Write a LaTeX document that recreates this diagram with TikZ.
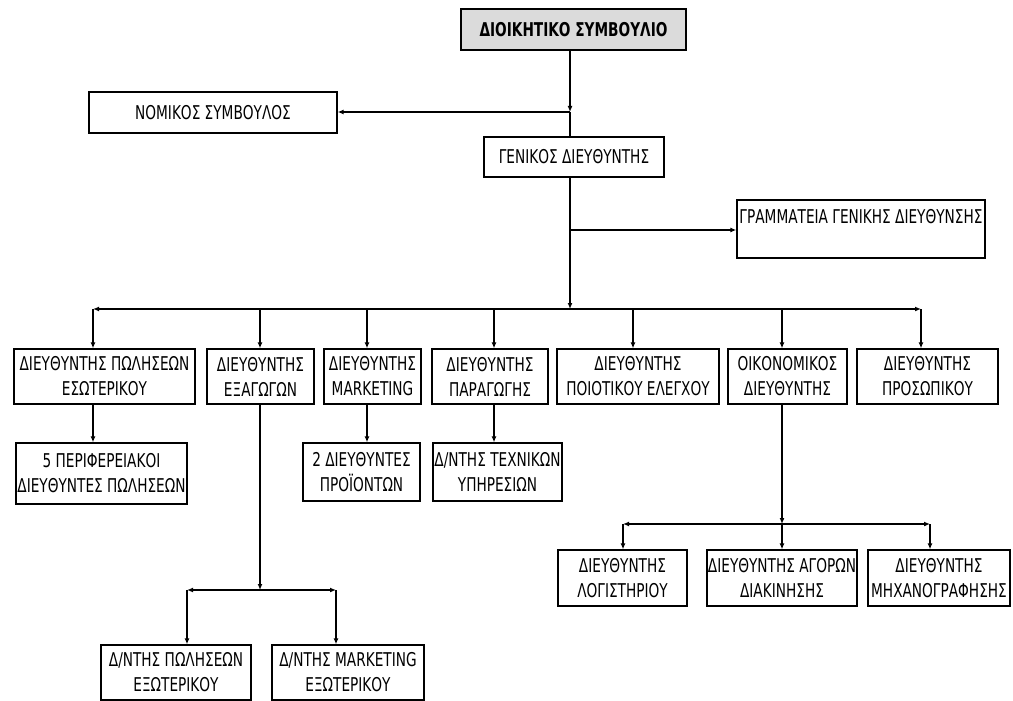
\documentclass[tikz,border=0pt]{standalone}
\usepackage{fontspec}
\setmainfont{DejaVu Sans}[FakeStretch=0.72]
\usetikzlibrary{arrows.meta}
\begin{document}
\begin{tikzpicture}[x=1pt,y=-1pt,
  orgbox/.style={draw, line width=1.3pt, inner sep=0pt, align=center,
    font=\fontsize{19}{25}\selectfont},
  conn/.style={line width=1.3pt},
  tip/.style={conn, -{Latex[length=6pt,width=5pt]}},
  dtip/.style={conn, {Latex[length=6pt,width=5pt]}-{Latex[length=6pt,width=5pt]}}]
\useasboundingbox (0,0) rectangle (1013,701);

% top
\node[orgbox, fill=black!14, minimum width=225pt, minimum height=41pt, font=\fontsize{19}{25}\selectfont\bfseries] (board) at (573.5,29.5) {ΔΙΟΙΚΗΤΙΚΟ ΣΥΜΒΟΥΛΙΟ};
\node[orgbox, minimum width=248pt, minimum height=41pt] (nomikos) at (213,112.5) {ΝΟΜΙΚΟΣ ΣΥΜΒΟΥΛΟΣ};
\node[orgbox, minimum width=180pt, minimum height=40pt] (genikos) at (574,157) {ΓΕΝΙΚΟΣ ΔΙΕΥΘΥΝΤΗΣ};
\node[orgbox, minimum width=248pt, minimum height=58pt] (gram) at (861,229) {ΓΡΑΜΜΑΤΕΙΑ ΓΕΝΙΚΗΣ ΔΙΕΥΘΥΝΣΗΣ\\\mbox{}};

% row 1
\node[orgbox, minimum width=181pt, minimum height=55pt] (r1a) at (104.5,376.5) {ΔΙΕΥΘΥΝΤΗΣ ΠΩΛΗΣΕΩΝ\\ΕΣΩΤΕΡΙΚΟΥ};
\node[orgbox, minimum width=107pt, minimum height=55pt] (r1b) at (260.5,376.5) {ΔΙΕΥΘΥΝΤΗΣ\\ΕΞΑΓΩΓΩΝ};
\node[orgbox, minimum width=97pt, minimum height=55pt] (r1c) at (372.5,376.5) {ΔΙΕΥΘΥΝΤΗΣ\\MARKETING};
\node[orgbox, minimum width=116pt, minimum height=55pt] (r1d) at (490,376.5) {ΔΙΕΥΘΥΝΤΗΣ\\ΠΑΡΑΓΩΓΗΣ};
\node[orgbox, minimum width=162pt, minimum height=55pt] (r1e) at (638,376.5) {ΔΙΕΥΘΥΝΤΗΣ\\ΠΟΙΟΤΙΚΟΥ ΕΛΕΓΧΟΥ};
\node[orgbox, minimum width=119pt, minimum height=55pt] (r1f) at (787.5,376.5) {ΟΙΚΟΝΟΜΙΚΟΣ\\ΔΙΕΥΘΥΝΤΗΣ};
\node[orgbox, minimum width=141pt, minimum height=55pt] (r1g) at (927.5,376.5) {ΔΙΕΥΘΥΝΤΗΣ\\ΠΡΟΣΩΠΙΚΟΥ};

% row 2
\node[orgbox, minimum width=171pt, minimum height=61pt] (r2a) at (101.5,473.5) {5 ΠΕΡΙΦΕΡΕΙΑΚΟΙ\\ΔΙΕΥΘΥΝΤΕΣ ΠΩΛΗΣΕΩΝ};
\node[orgbox, minimum width=117pt, minimum height=58pt] (r2b) at (361.5,472) {2 ΔΙΕΥΘΥΝΤΕΣ\\ΠΡΟΪΟΝΤΩΝ};
\node[orgbox, minimum width=129pt, minimum height=58pt] (r2c) at (497.5,472) {Δ/ΝΤΗΣ ΤΕΧΝΙΚΩΝ\\ΥΠΗΡΕΣΙΩΝ};

% row 3
\node[orgbox, minimum width=129pt, minimum height=56pt] (r3a) at (622.5,578) {ΔΙΕΥΘΥΝΤΗΣ\\ΛΟΓΙΣΤΗΡΙΟΥ};
\node[orgbox, minimum width=150pt, minimum height=56pt] (r3b) at (782,578) {ΔΙΕΥΘΥΝΤΗΣ ΑΓΟΡΩΝ\\ΔΙΑΚΙΝΗΣΗΣ};
\node[orgbox, minimum width=142pt, minimum height=56pt] (r3c) at (939,578) {ΔΙΕΥΘΥΝΤΗΣ\\ΜΗΧΑΝΟΓΡΑΦΗΣΗΣ};

% row 4
\node[orgbox, minimum width=150pt, minimum height=55pt] (r4a) at (176,672.5) {Δ/ΝΤΗΣ ΠΩΛΗΣΕΩΝ\\ΕΞΩΤΕΡΙΚΟΥ};
\node[orgbox, minimum width=152pt, minimum height=55pt] (r4b) at (348,672.5) {Δ/ΝΤΗΣ MARKETING\\ΕΞΩΤΕΡΙΚΟΥ};

% junction coordinates
\coordinate (j1) at (570,112);
\coordinate (j2) at (570,230);
\coordinate (j3) at (570,309);
\coordinate (b1) at (93,309);
\coordinate (b2) at (260,309);
\coordinate (b3) at (367,309);
\coordinate (b4) at (494,309);
\coordinate (b5) at (633,309);
\coordinate (b6) at (782,309);
\coordinate (b7) at (921,309);
\coordinate (c1) at (93,404);
\coordinate (c3) at (367,404);
\coordinate (c4) at (494,404);
\coordinate (f0) at (782,404);
\coordinate (f1) at (782,524);
\coordinate (fl) at (623,524);
\coordinate (fr) at (930,524);
\coordinate (e0) at (260,404);
\coordinate (e1) at (260,590);
\coordinate (el) at (187,590);
\coordinate (er) at (336,590);

% top connectors
\draw[tip] (board.south -| j1) -- (j1);
\draw[tip] (j1) -- (nomikos.east |- j1);
\draw[conn] (j1) -- (genikos.north -| j1);
\draw[conn] (genikos.south -| j1) -- (j2);
\draw[tip] (j2) -- (gram.west |- j2);
\draw[tip] (j2) -- (j3);

% main bus
\draw[dtip] (b1) -- (b7);
\draw[tip] (b1) -- (r1a.north -| b1);
\draw[tip] (b2) -- (r1b.north -| b2);
\draw[tip] (b3) -- (r1c.north -| b3);
\draw[tip] (b4) -- (r1d.north -| b4);
\draw[tip] (b5) -- (r1e.north -| b5);
\draw[tip] (b6) -- (r1f.north -| b6);
\draw[tip] (b7) -- (r1g.north -| b7);

% row1 -> row2
\draw[tip] (r1a.south -| c1) -- (r2a.north -| c1);
\draw[tip] (r1c.south -| c3) -- (r2b.north -| c3);
\draw[tip] (r1d.south -| c4) -- (r2c.north -| c4);

% financial branch
\draw[tip] (r1f.south -| f0) -- (f1);
\draw[dtip] (fl) -- (fr);
\draw[tip] (fl) -- (r3a.north -| fl);
\draw[tip] (f1) -- (r3b.north -| f1);
\draw[tip] (fr) -- (r3c.north -| fr);

% exports branch
\draw[tip] (r1b.south -| e0) -- (e1);
\draw[dtip] (el) -- (er);
\draw[tip] (el) -- (r4a.north -| el);
\draw[tip] (er) -- (r4b.north -| er);
\end{tikzpicture}
\end{document}
